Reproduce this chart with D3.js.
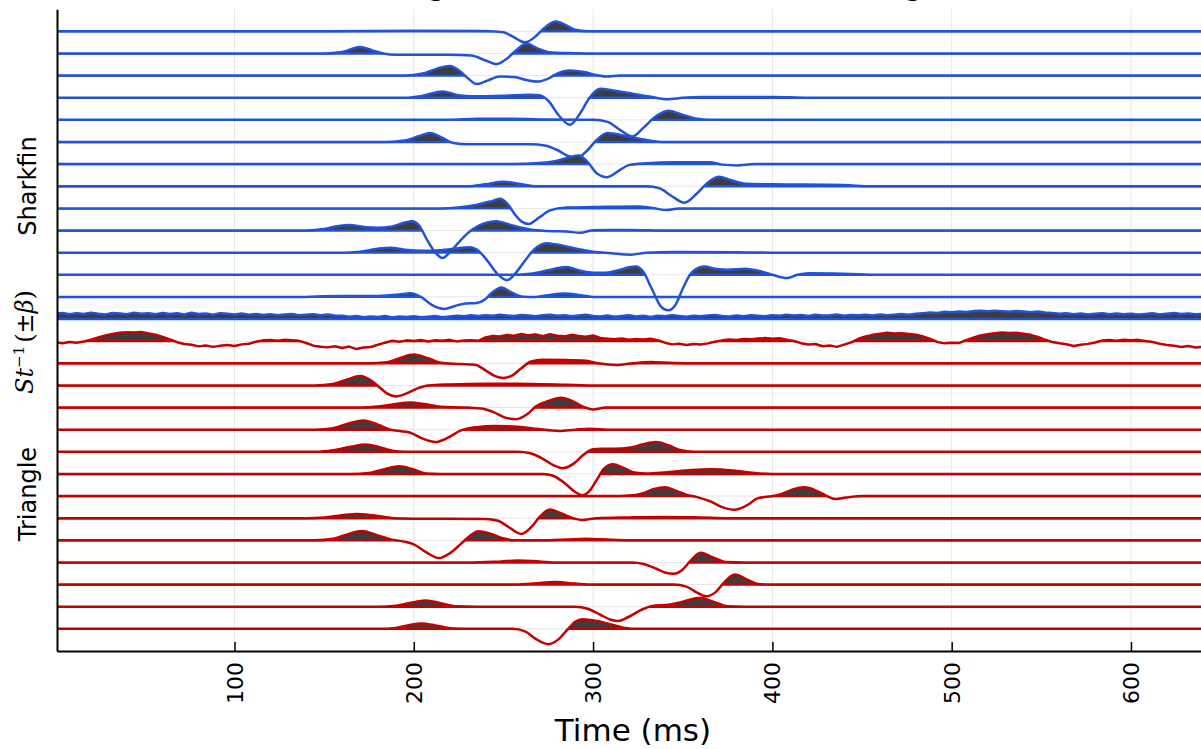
<!DOCTYPE html>
<html>
<head>
<meta charset="utf-8">
<script src="https://cdn.jsdelivr.net/npm/d3@7"></script>
<style>
  html, body { margin: 0; padding: 0; background: #ffffff; overflow: hidden; }
  svg { display: block; }
</style>
</head>
<body>
<svg id="chart" width="1201" height="749"></svg>
<script>
// ---------------- DATA ----------------
const timeTicks = [100, 200, 300, 400, 500, 600];
const titleText = "Average waveform of Sharkfin and Triangle";
const groupLabels = ["Sharkfin", "Triangle"];

// Sharkfin condition: [time (ms), amplitude] knots (top to bottom)
const sharkfin = [
  [[150,0],[200,0.6],[240,0.4],[250,-1],[255,-5],[262,-11],[268,-5],[272,2],[279,9.7],[285,6],[290,1.5],[297,0]],
  [[150,0],[160,1.5],[170,6.5],[177,3],[183,0],[190,-1.3],[220,-1.2],[232,-2],[240,-7],[246,-10.7],[252,-5],[257,3],[263,10],[269,5],[277,1],[290,0.3],[300,0]],
  [[195,0],[205,2],[213,7],[220,9.5],[226,4],[231,-4],[235,-8.5],[241,-5],[248,-1],[256,-1.5],[263,-4.5],[269,-6],[275,-3],[280,2],[287,5],[295,3.5],[302,0.5],[308,-1],[315,0],[320,0]],
  [[195,0],[205,2],[216,6.3],[225,2.5],[232,1.5],[250,2],[265,3],[270,2.5],[275,-3],[281,-18],[287,-27],[293,-15],[298,0],[304,9],[312,7],[322,4],[332,1],[342,-1.5],[350,0],[360,0.8],[400,0.8],[420,0]],
  [[220,0],[235,1],[255,1],[275,0.3],[300,0],[308,-2],[315,-10],[322,-16.5],[328,-8],[334,2],[342,9],[350,5],[358,1],[365,0]],
  [[185,0],[195,1.5],[203,6],[209,9],[216,4],[222,-1],[230,-2.3],[265,-2.3],[273,-3.5],[280,-8],[286,-14],[291,-16],[297,-8],[302,2],[308,9],[318,6],[328,2.5],[338,0],[345,0]],
  [[255,0],[270,1],[280,3.5],[287,7],[292,8.5],[297,2],[302,-9],[308,-13],[314,-7],[320,-1],[330,0.8],[345,1.8],[365,1.8],[372,-0.5],[380,-1.3],[390,0],[400,0]],
  [[230,0],[240,2],[250,4.5],[260,2],[268,0],[330,0],[337,-2],[344,-10],[351,-16.5],[358,-7],[363,2],[370,9.5],[377,6],[385,2.5],[400,2],[440,1.2],[455,0],[470,0]],
  [[215,0],[225,1],[235,3.5],[243,7],[248,9.5],[252,5],[256,-5],[260,-13],[264,-15.5],[270,-9],[276,-2],[285,0.8],[300,1.3],[325,2],[333,0.5],[341,-1.7],[348,0],[360,0]],
  [[140,0],[150,1.5],[158,4.5],[164,5.5],[172,3.5],[180,2.7],[188,4],[195,8],[199,9.3],[203,5],[207,-8],[212,-22],[216,-27.5],[221,-20],[227,-8],[233,1.5],[240,7.5],[246,9.3],[255,5],[265,1],[275,-0.5],[285,-1],[293,-2.3],[300,0.3],[320,0.5],[340,0],[360,0]],
  [[160,0],[170,1],[180,4],[187,5],[195,3],[205,2],[215,2.5],[225,4.5],[231,5.5],[236,2],[241,-8],[247,-22],[252,-27.5],[257,-20],[262,-8],[267,3],[274,9.5],[283,7],[292,3.5],[300,1],[310,-0.5],[321,-2],[330,0],[345,0.7],[380,0.5],[400,0]],
  [[255,0],[265,1],[275,4.5],[285,7.7],[293,4],[300,2],[307,2],[315,5],[320,7.5],[324,8.3],[328,3],[333,-15],[338,-32],[342,-35.5],[346,-30],[350,-14],[354,0],[358,6.5],[362,8.3],[368,6],[375,5],[385,6],[392,4],[400,0],[408,-3.3],[414,0],[420,1.5],[440,1],[460,0],[480,0]],
  [[140,0],[150,0.7],[180,1],[192,2.5],[198,3.7],[204,0],[210,-8],[217,-12],[223,-9],[229,-6.5],[235,-6],[240,-2],[244,5],[249,9.5],[254,5],[260,0.5],[268,0],[276,2],[284,3.3],[292,2],[300,0],[310,0]]
];

// Statistic traces sampled every 4 ms from 0 to 640 ms
const statBlue = [
  5.2,6.1,4.8,5.9,5.0,6.4,5.3,4.6,6.0,5.5,
  4.9,6.2,5.4,5.8,4.7,6.0,5.1,5.7,4.5,6.3,
  5.0,5.6,4.4,5.9,5.2,4.6,5.5,4.3,5.1,4.0,
  4.8,3.9,4.6,5.0,3.7,4.4,4.9,3.8,4.5,3.6,
  3.2,2.4,3.0,1.8,2.6,2.1,3.1,1.6,2.5,2.0,
  2.8,1.7,2.3,3.0,1.9,2.6,3.4,2.9,3.8,3.1,
  3.9,3.3,4.2,3.5,3.0,4.1,3.6,2.9,3.8,4.3,
  3.4,3.9,2.8,3.6,4.4,3.1,2.6,3.5,2.2,3.0,
  3.7,2.5,3.2,2.0,3.4,2.7,3.9,3.0,2.4,3.3,
  2.8,3.6,4.1,3.0,2.6,3.5,2.9,3.8,3.2,2.7,
  3.9,3.3,4.4,3.6,4.0,3.1,4.2,3.5,3.8,4.5,
  3.4,4.1,3.7,4.3,3.6,4.6,3.9,4.4,5.0,4.2,
  5.3,5.9,6.6,6.1,7.2,6.8,7.6,7.1,7.9,8.3,
  7.7,8.4,7.9,7.3,8.1,7.5,6.9,7.6,6.6,6.0,
  5.2,5.8,4.9,5.5,4.6,5.3,5.9,4.8,5.6,4.7,
  5.4,4.5,5.1,5.8,4.6,5.3,6.0,5.0,5.5,4.9,
  5.2
];
const statRed = [
  -1.2,-2.0,-0.8,-1.5,-0.3,1.5,3.8,5.6,7.2,8.4,
  9.0,8.6,9.2,7.8,6.5,4.3,1.8,-1.0,-2.8,-3.5,
  -5.2,-4.4,-5.7,-4.6,-3.8,-4.9,-3.2,-2.5,-0.6,0.8,
  1.2,0.4,1.5,0.9,0.3,-1.8,-4.5,-5.5,-6.2,-5.1,
  -6.8,-5.4,-7.9,-6.3,-5.8,-3.6,-1.5,0.4,-0.5,0.8,
  0.2,1.1,-0.3,0.9,0.5,1.3,-0.2,0.7,1.0,0.3,
  3.8,5.2,4.6,6.1,5.4,7.2,5.8,6.6,5.0,6.9,
  5.5,4.8,6.3,5.1,4.4,5.7,3.2,2.5,1.8,2.6,
  1.4,2.2,1.6,2.4,1.0,-1.5,-3.2,-2.5,-3.8,-2.8,
  -3.4,-2.2,-0.5,0.8,1.6,1.1,2.2,1.8,2.7,3.1,
  2.4,3.0,1.5,0.2,-2.0,-3.4,-2.8,-5.1,-4.3,-5.7,
  -3.5,-1.2,2.4,4.8,6.3,7.5,8.3,7.6,8.0,7.2,
  6.5,4.8,2.3,-0.8,-2.2,-1.6,-1.9,1.0,3.5,5.6,
  7.0,7.8,8.7,8.1,8.5,7.4,6.3,4.2,1.5,-0.8,
  -2.0,-3.1,-4.9,-3.6,-2.7,-1.4,0.6,1.2,0.4,1.5,
  0.8,1.3,0.2,-0.9,-2.5,-3.8,-4.6,-5.9,-4.8,-6.4,
  -5.5
];
const statStep = 4; // ms between statistic samples

// Triangle condition: [time (ms), amplitude] knots (top to bottom)
const triangle = [
  [[175,0],[185,1],[192,5],[200,8.7],[208,5],[215,0.5],[225,-0.7],[234,-1.5],[240,-7],[245,-12.5],[250,-14.7],[255,-12],[260,-5],[265,1.5],[272,3.5],[285,3.3],[296,2.5],[303,0],[313,-1.7],[322,0],[332,1.3],[345,0.3],[360,0]],
  [[145,0],[155,1.5],[163,6],[170,9.3],[176,5],[181,-2],[185,-8],[190,-11],[196,-8],[202,-3],[208,0],[220,1],[240,1.7],[265,1.5],[285,0.7],[300,0]],
  [[170,0],[180,1],[190,3.5],[198,5],[206,3.5],[215,0.7],[230,0],[238,-1],[245,-5],[251,-10],[257,-11.7],[263,-7],[268,1],[275,6.5],[282,9.7],[289,6],[295,0.5],[300,-2],[307,0],[320,0]],
  [[145,0],[155,1.5],[164,6.5],[172,9.3],[180,5],[187,0],[193,-1.5],[198,-3],[205,-9],[212,-12.3],[219,-8],[226,-1],[235,2.5],[245,3.7],[258,3],[268,1],[281,-1.3],[290,0],[298,1],[310,0],[320,0]],
  [[145,0],[155,1.5],[165,5],[173,7.3],[181,4.5],[190,0.5],[200,0],[258,0],[265,-1.5],[272,-7],[278,-13.5],[283,-16.3],[289,-12],[294,-4],[300,2.5],[305,3],[312,3],[320,4],[328,7.5],[335,9.7],[342,6.5],[349,1.5],[356,0],[370,0]],
  [[165,0],[175,1],[184,5],[192,7.7],[199,5],[207,0.5],[215,0],[272,0],[278,-2],[284,-9],[290,-18],[294,-21.3],[298,-17],[302,-6],[306,5],[311,9.7],[317,6],[323,1.5],[330,0.5],[340,1.5],[355,4],[366,4.7],[378,3.5],[390,1],[400,0],[410,0]],
  [[310,0],[320,0.5],[328,3],[334,7],[340,8.7],[346,5.5],[352,1.5],[358,-1],[365,-5],[372,-11],[379,-13.7],[386,-9],[392,-2],[398,-0.5],[405,2],[411,6.5],[418,8.7],[425,5],[430,0.5],[435,-3],[441,-1.5],[450,0],[460,0]],
  [[140,0],[150,0.8],[160,3],[168,4.3],[177,3],[189,0],[200,-0.5],[240,-0.7],[247,-2.5],[253,-9],[260,-15.7],[266,-8],[270,1],[276,8.7],[282,5],[289,0],[294,-1.7],[302,0],[320,0.8],[340,1.3],[360,0.7],[375,0]],
  [[145,0],[155,1.5],[163,6],[171,9.3],[179,5.5],[187,1],[194,-1],[200,-4],[207,-12],[214,-17.7],[220,-13],[226,-4],[231,4],[236,9],[243,6.5],[250,2],[256,0],[270,0],[285,0.8],[296,1.7],[310,0.5],[325,0]],
  [[230,0],[245,0.7],[258,2],[270,1],[280,0],[322,0],[328,-1.5],[335,-6],[340,-10],[345,-11.3],[350,-7],[354,1],[360,9.7],[367,5],[374,0.5],[385,0],[400,0]],
  [[255,0],[265,0.8],[279,2.5],[290,1],[300,0],[345,0],[352,-2],[358,-8],[363,-11.7],[368,-8],[373,2],[379,10],[386,5],[392,0.5],[400,0],[410,0]],
  [[180,0],[190,1],[200,4.5],[207,6.3],[215,3.5],[224,0.5],[235,0],[290,0],[297,-2],[304,-8],[310,-13],[314,-14.3],[320,-10],[327,-3],[333,0.8],[342,2],[350,5],[360,9],[367,5],[375,0.5],[385,0],[400,0]],
  [[180,0],[190,1],[198,4],[204,5.3],[212,3.5],[222,0.3],[235,0],[255,0],[262,-2.5],[268,-10],[275,-15.3],[281,-10],[286,0],[290,7],[294,9.7],[302,8],[310,4.5],[318,1],[325,0],[340,0]]
];

// ---------------- LAYOUT / STYLE ----------------
const W = 1201, H = 749;
const plot = { left: 57, right: 1202.7, top: 9.2, bottom: 651 };
const BLUE = "#2352da", RED = "#c40000", FILL = "#3d3d3d";
const nTraces = sharkfin.length + 2 + triangle.length;

const svg = d3.select("#chart");
const x = d3.scaleLinear().domain([1, 640]).range([plot.left, plot.right]);
const y = d3.scaleLinear().domain([-1, nTraces]).range([plot.top, plot.bottom]);
const spacing = y(1) - y(0);
const amp = d3.scaleLinear().domain([0, 22.1]).range([0, spacing]);

const defs = svg.append("defs");
defs.append("clipPath").attr("id", "plotclip")
  .append("rect").attr("x", plot.left).attr("y", plot.top)
  .attr("width", plot.right - plot.left).attr("height", plot.bottom - plot.top);

// grid
const grid = svg.append("g").attr("class", "grid");
grid.selectAll("line.v").data(timeTicks).join("line")
  .attr("x1", d => x(d)).attr("x2", d => x(d))
  .attr("y1", plot.top).attr("y2", plot.bottom)
  .attr("stroke", "#e6e6e6").attr("stroke-width", 1);
grid.selectAll("line.h").data(d3.range(nTraces)).join("line")
  .attr("x1", plot.left).attr("x2", plot.right)
  .attr("y1", d => y(d)).attr("y2", d => y(d))
  .attr("stroke", "#e6e6e6").attr("stroke-width", 1);

// traces
const traces = [];
sharkfin.forEach(p => traces.push({ pts: p, color: BLUE, smooth: true }));
traces.push({ pts: statBlue.map((v, i) => [i * statStep, v]), color: BLUE, smooth: false });
traces.push({ pts: statRed.map((v, i) => [i * statStep, v]), color: RED, smooth: false });
triangle.forEach(p => traces.push({ pts: p, color: RED, smooth: true }));

const gPlot = svg.append("g").attr("clip-path", "url(#plotclip)");

traces.forEach((tr, k) => {
  let pts = tr.pts.slice();
  if (tr.smooth) pts = [[-10, 0], ...pts, [660, 0]];
  const base = y(k);
  const curve = tr.smooth ? d3.curveMonotoneX : d3.curveLinear;
  const yv = d => base - amp(d[1]);

  // clip: region below the curve
  defs.append("clipPath").attr("id", "below" + k)
    .append("path")
    .attr("d", d3.area().x(d => x(d[0])).y0(yv).y1(plot.bottom + 100).curve(curve)(pts));

  const g = gPlot.append("g");
  // positive fill
  g.append("rect")
    .attr("x", plot.left).attr("width", plot.right - plot.left)
    .attr("y", base - 60).attr("height", 60)
    .attr("fill", FILL)
    .attr("clip-path", "url(#below" + k + ")");
  // fill outline along baseline
  g.append("line")
    .attr("x1", plot.left).attr("x2", plot.right)
    .attr("y1", base).attr("y2", base)
    .attr("stroke", tr.color).attr("stroke-width", 2.4)
    .attr("clip-path", "url(#below" + k + ")");
  // trace line
  g.append("path")
    .attr("d", d3.line().x(d => x(d[0])).y(yv).curve(curve)(pts))
    .attr("fill", "none").attr("stroke", tr.color)
    .attr("stroke-width", 2.5).attr("stroke-linejoin", "round");
});

// axes
const xAxis = d3.axisBottom(x).tickValues(timeTicks).tickSizeInner(-9).tickSizeOuter(0).tickFormat("");
const gx = svg.append("g").attr("transform", `translate(0,${plot.bottom})`).call(xAxis);
gx.select(".domain").attr("stroke", "#000").attr("stroke-width", 2);
gx.selectAll(".tick line").attr("stroke", "#000").attr("stroke-width", 1.5);

const yAxis = d3.axisLeft(y).tickValues([]).tickSizeOuter(0);
const gy = svg.append("g").attr("transform", `translate(${plot.left},0)`).call(yAxis);
gy.select(".domain").attr("stroke", "#000").attr("stroke-width", 2);

// tick labels (rotated)
svg.append("g").selectAll("text").data(timeTicks).join("text")
  .attr("transform", d => `translate(${x(d) + 8},662) rotate(-90)`)
  .attr("text-anchor", "end")
  .attr("font-family", "DejaVu Sans").attr("font-size", 22).attr("fill", "#000")
  .text(d => d);

// axis title
svg.append("text").attr("x", 633).attr("y", 741)
  .attr("text-anchor", "middle").attr("font-family", "DejaVu Sans")
  .attr("font-size", 31).attr("fill", "#000").text("Time (ms)");

// group labels
svg.append("text").attr("transform", "translate(36,186) rotate(-90)")
  .attr("text-anchor", "middle").attr("font-family", "DejaVu Sans")
  .attr("font-size", 24).attr("fill", "#000").text(groupLabels[0]);
svg.append("text").attr("transform", "translate(36,494) rotate(-90)")
  .attr("text-anchor", "middle").attr("font-family", "DejaVu Sans")
  .attr("font-size", 24).attr("fill", "#000").text(groupLabels[1]);

// statistic label St^{-1}(±β)
const st = svg.append("text").attr("transform", "translate(33,342) rotate(-90)")
  .attr("text-anchor", "middle").attr("font-family", "DejaVu Serif")
  .attr("font-size", 24).attr("fill", "#000");
st.append("tspan").attr("font-style", "italic").text("St");
st.append("tspan").attr("font-size", 15).attr("dy", -9).text("−1");
st.append("tspan").attr("dy", 9).attr("dx", 3).text("(±");
st.append("tspan").attr("font-style", "italic").text("β");
st.append("tspan").text(")");

// title (mostly above the visible area, as in the reference)
svg.append("text").attr("x", 349).attr("y", -3.8)
  .attr("font-family", "DejaVu Sans").attr("font-weight", "bold")
  .attr("font-size", 24.5).attr("fill", "#000").text(titleText);
</script>
</body>
</html>
